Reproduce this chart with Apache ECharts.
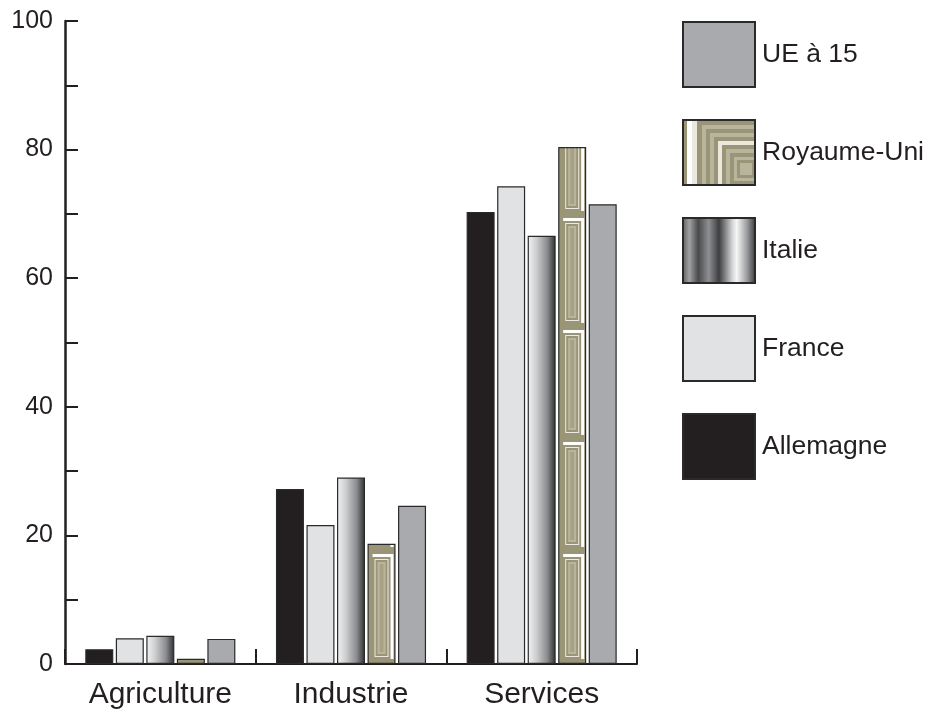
<!DOCTYPE html>
<html>
<head>
<meta charset="utf-8">
<script src="https://cdn.jsdelivr.net/npm/echarts@6/dist/echarts.min.js"></script>
<style>
html,body{margin:0;padding:0;background:#fff;}
#main{width:936px;height:722px;}
</style>
</head>
<body>
<div id="main"></div>
<script>
const categories = ['Agriculture', 'Industrie', 'Services'];
const allemagne = [2.3, 27.2, 70.3];
const france = [4.0, 21.6, 74.3];
const italie = [4.4, 29.0, 66.6];
const royaumeUni = [0.8, 18.7, 80.4];
const ue15 = [3.9, 24.6, 71.5];
const yTicks = [0, 20, 40, 60, 80, 100];
const legendOrder = ['UE à 15', 'Royaume-Uni', 'Italie', 'France', 'Allemagne'];

const INK = '#231f20';
const OL_DARK = '#9b9578', OL_MID = '#a7a286', OL_LIGHT = '#b9b59d', CREAM = '#ebe9df';

function barTile() {
  const W = 28, H = 112;
  const c = document.createElement('canvas');
  c.width = W; c.height = H;
  const ctx = c.getContext('2d');
  const rings = [[0, OL_DARK], [2, '#ffffff'], [5, OL_DARK], [7, CREAM], [8, OL_DARK], [10, OL_LIGHT], [12, OL_MID]];
  rings.forEach(([i, col]) => { ctx.fillStyle = col; ctx.fillRect(i, i, W - 2 * i, H - 2 * i); });
  // open the white ring on the left/bottom side so it reads as an L shape
  ctx.fillStyle = OL_DARK;
  ctx.fillRect(0, 2, 5, H - 2);
  ctx.fillRect(0, H - 5, W - 2, 5);
  return c;
}
function legendTile() {
  const W = 72, H = 65;
  const c = document.createElement('canvas');
  c.width = W; c.height = H;
  const ctx = c.getContext('2d');
  const cx = 63, cy = 49;
  const rings = [[5, OL_DARK], [5, '#ffffff'], [5, CREAM], [5, OL_DARK], [4, OL_LIGHT], [4, OL_DARK], [4, OL_LIGHT], [4, OL_DARK], [4, CREAM], [4, OL_DARK], [4, OL_LIGHT], [4, OL_DARK], [3, OL_LIGHT], [3, OL_DARK], [2, OL_LIGHT]];
  let r = 64;
  rings.forEach(([w, col]) => { ctx.fillStyle = col; ctx.fillRect(cx - r, cy - r, 2 * r, 2 * r); r -= w; });
  return c;
}
const BAR_TILE = barTile();
const LEG_TILE = legendTile();

const italieGrad = new echarts.graphic.LinearGradient(0, 0, 1, 0, [
  { offset: 0, color: '#f3f3f4' }, { offset: 0.3, color: '#cfd0d2' },
  { offset: 0.7, color: '#8b8c8f' }, { offset: 1, color: '#2e2e30' }
]);
const italieLegendGrad = new echarts.graphic.LinearGradient(0, 0, 1, 0, [
  { offset: 0, color: '#5a5a5c' }, { offset: 0.1, color: '#a0a1a3' }, { offset: 0.22, color: '#4a4a4c' },
  { offset: 0.36, color: '#8e8f92' }, { offset: 0.5, color: '#3e3e40' }, { offset: 0.68, color: '#d4d5d7' },
  { offset: 0.74, color: '#f6f6f6' }, { offset: 0.88, color: '#9a9b9e' }, { offset: 1, color: '#333335' }
]);

const chart = echarts.init(document.getElementById('main'), null, { renderer: 'canvas' });
const FONT = 'Liberation Sans, Arial, Helvetica, sans-serif';
const border = { borderColor: '#2a2a2a', borderWidth: 1.2 };

function mkSeries(name, data, color, extra) {
  return Object.assign({
    name, type: 'bar', data: data.slice(), barWidth: 28, barGap: '9%',
    itemStyle: Object.assign({ color }, border)
  }, extra || {});
}

const option = {
  animation: false,
  backgroundColor: '#ffffff',
  grid: { left: 65, right: 299, top: 21, bottom: 58 },
  legend: {
    orient: 'vertical', left: 682, top: 21, padding: 0,
    itemWidth: 72, itemHeight: 65, itemGap: 31, icon: 'rect',
    textStyle: { fontSize: 26.5, color: INK, fontFamily: FONT, padding: [0, 0, 0, 2] },
    data: legendOrder.map(n => {
      if (n === 'Italie') return { name: n, itemStyle: { color: italieLegendGrad } };
      if (n === 'Royaume-Uni') return { name: n, itemStyle: { color: { image: LEG_TILE, repeat: 'repeat', x: 0, y: 0 } } };
      return { name: n };
    })
  },
  xAxis: {
    type: 'category', data: categories,
    axisLine: { lineStyle: { color: INK, width: 2 } },
    axisTick: { show: true, inside: true, length: 15, alignWithLabel: false, lineStyle: { color: INK, width: 2 } },
    axisLabel: { fontSize: 30, color: INK, fontFamily: FONT, margin: 16 },
    splitLine: { show: false }
  },
  yAxis: {
    type: 'value', min: yTicks[0], max: yTicks[yTicks.length - 1], interval: 20,
    axisLine: { show: true, lineStyle: { color: INK, width: 2.5 } },
    axisTick: { show: true, inside: true, length: 13, lineStyle: { color: INK, width: 2 } },
    minorTick: { show: true, splitNumber: 2, length: 13, lineStyle: { color: INK, width: 2 } },
    axisLabel: { fontSize: 25, color: INK, fontFamily: FONT, margin: 12 },
    splitLine: { show: false }
  },
  series: [
    mkSeries('Allemagne', allemagne, '#231f20'),
    mkSeries('France', france, '#e1e2e4'),
    mkSeries('Italie', italie, italieGrad),
    mkSeries('Royaume-Uni', royaumeUni, { image: BAR_TILE, repeat: 'repeat' }),
    mkSeries('UE à 15', ue15, '#a9aaae')
  ]
};
chart.setOption(option);

// anchor the UK pattern to each bar's own layout (read back from the library)
try {
  const sData = chart.getModel().getSeriesByIndex(3).getData();
  const items = royaumeUni.map((v, i) => {
    const l = sData.getItemLayout(i);
    return { value: v, itemStyle: { color: { image: BAR_TILE, repeat: 'repeat', x: l.x, y: l.y } } };
  });
  chart.setOption({ series: [{}, {}, {}, { data: items }, {}] });
} catch (e) { console.log(e); }
</script>
</body>
</html>
